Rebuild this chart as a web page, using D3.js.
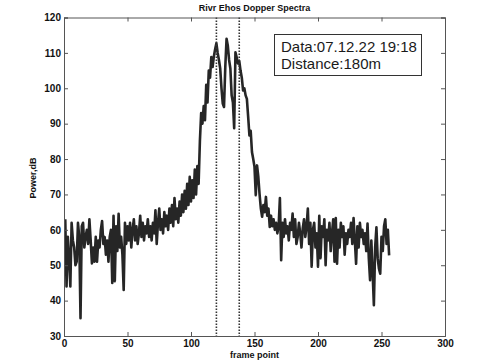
<!DOCTYPE html>
<html>
<head>
<meta charset="utf-8">
<script src="https://cdn.jsdelivr.net/npm/d3@7"></script>
<style>
body { margin: 0; background: #fff; }
svg { display: block; }
</style>
</head>
<body>
<script>
// spectrum power (dB) for frame points 1..256
var power = [
  63, 44, 58, 52, 44, 62, 57, 55, 50, 51, 62, 58, 35, 61, 62, 55,
  58, 60, 56, 63, 57, 50.5, 55, 51, 58, 51, 57, 55, 60, 62.5, 56, 58,
  53, 57, 51, 58, 60, 45, 64, 45.5, 61, 54, 64.5, 55, 58, 53, 43, 62,
  56, 61, 57, 62, 55, 60, 63, 57, 61, 56, 59, 64, 58, 62, 57, 61,
  59, 63, 58, 61, 57, 62, 59, 65.5, 56, 62, 66, 60, 63, 59, 65, 61,
  64, 60, 66, 62, 67, 61, 69, 63, 66, 62, 68, 64, 70, 65, 71, 66,
  73, 67, 75, 68, 74, 69, 77, 70, 78, 73, 85, 93, 90, 95, 91, 101,
  96, 105, 103, 108.8, 106, 109, 111, 112.7, 110, 108, 105.6, 100, 95.7, 94.7, 106, 114,
  112, 108, 105.6, 98, 96, 88.7, 110.2, 108.7, 107, 107.7, 105, 103, 99.4, 100, 98, 97,
  92, 86.7, 88, 82, 80, 77.8, 69.8, 78.2, 75, 70, 66, 63.7, 67, 65, 69.3, 64,
  66, 60.8, 64, 61, 63, 60, 62, 59, 61, 69, 51.4, 62, 58, 63, 59, 61,
  57, 62, 60, 64.6, 58, 63, 56, 58, 62, 59, 55, 60.5, 63, 58, 61, 66,
  56, 62, 49.6, 60, 62, 55, 59, 49.6, 64, 52, 61, 58, 63, 50, 60, 57,
  62, 54, 59, 63, 51, 63.3, 50.4, 60, 55, 62, 58, 61, 53, 59, 56, 60,
  58, 62, 56, 63.3, 57, 50.4, 61, 55, 62, 58, 60, 56, 59, 54, 61.8, 52,
  45.8, 57, 48, 38.7, 55, 60.7, 52, 49, 47.6, 58, 54, 61, 63, 56, 60, 52.8
];
var frames = d3.range(1, power.length + 1);

var xTicks = [0, 50, 100, 150, 200, 250, 300];
var yTicks = [30, 40, 50, 60, 70, 80, 90, 100, 110, 120];
var markers = [120, 138];
var titleText = "Rivr Ehos Dopper Spectra";
var infoLines = ["Data:07.12.22 19:18", "Distance:180m"];

var width = 492, height = 363;
var plotL = 64, plotR = 445, plotT = 17.5, plotB = 336;

var x = d3.scaleLinear().domain([0, 300]).range([plotL, plotR]);
var y = d3.scaleLinear().domain([30, 120]).range([plotB, plotT]);

var svg = d3.select("body").append("svg")
    .attr("width", width)
    .attr("height", height)
    .style("font-family", "'Liberation Sans', Arial, sans-serif");

// spectrum line
var line = d3.line()
    .x(function(d, i) { return x(frames[i]); })
    .y(function(d) { return y(d); });

svg.append("path")
    .datum(power)
    .attr("d", line)
    .attr("fill", "none")
    .attr("stroke", "#262626")
    .attr("stroke-width", 2.6)
    .attr("stroke-linejoin", "round");

// dotted markers
svg.selectAll(".marker")
    .data(markers)
    .enter().append("line")
    .attr("class", "marker")
    .attr("x1", function(d) { return x(d); })
    .attr("x2", function(d) { return x(d); })
    .attr("y1", plotT)
    .attr("y2", plotB)
    .attr("stroke", "#333")
    .attr("stroke-width", 1.6)
    .attr("stroke-dasharray", "1.5,1.5");

// axes (ticks inside, MATLAB style)
svg.append("g")
    .attr("transform", "translate(0," + plotB + ")")
    .call(d3.axisBottom(x).tickValues(xTicks).tickSize(-4).tickPadding(4));
svg.append("g")
    .attr("transform", "translate(0," + plotT + ")")
    .call(d3.axisTop(x).tickValues(xTicks).tickSize(-4).tickFormat(""));
svg.append("g")
    .attr("transform", "translate(" + plotL + ",0)")
    .call(d3.axisLeft(y).tickValues(yTicks).tickSize(-4).tickPadding(3));
svg.append("g")
    .attr("transform", "translate(" + plotR + ",0)")
    .call(d3.axisRight(y).tickValues(yTicks).tickSize(-4).tickFormat(""));

svg.selectAll(".domain, .tick line")
    .attr("stroke", "#555")
    .attr("stroke-width", 1);
svg.selectAll(".tick text")
    .attr("fill", "#111")
    .style("font-size", "10px")
    .style("font-weight", "bold")
    .style("font-family", "'Liberation Sans', Arial, sans-serif");

// title and labels
svg.append("text")
    .attr("x", (plotL + plotR) / 2)
    .attr("y", 11)
    .attr("text-anchor", "middle")
    .style("font-size", "9px")
    .style("font-weight", "bold")
    .attr("fill", "#111")
    .text(titleText);

svg.append("text")
    .attr("x", (plotL + plotR) / 2)
    .attr("y", 358)
    .attr("text-anchor", "middle")
    .style("font-size", "9px")
    .style("font-weight", "bold")
    .attr("fill", "#111")
    .text("frame point");

svg.append("text")
    .attr("transform", "translate(36," + 178 + ") rotate(-90)")
    .attr("text-anchor", "middle")
    .style("font-size", "9px")
    .style("font-weight", "bold")
    .attr("fill", "#111")
    .text("Power,dB");

// info box
svg.append("rect")
    .attr("x", 274.5)
    .attr("y", 34.5)
    .attr("width", 147)
    .attr("height", 41)
    .attr("fill", "#fff")
    .attr("stroke", "#333")
    .attr("stroke-width", 1);

svg.selectAll(".info")
    .data(infoLines)
    .enter().append("text")
    .attr("class", "info")
    .attr("x", 281)
    .attr("y", function(d, i) { return 52 + i * 16.5; })
    .style("font-size", "15px")
    .attr("fill", "#1a1a1a")
    .text(function(d) { return d; });
</script>
</body>
</html>
